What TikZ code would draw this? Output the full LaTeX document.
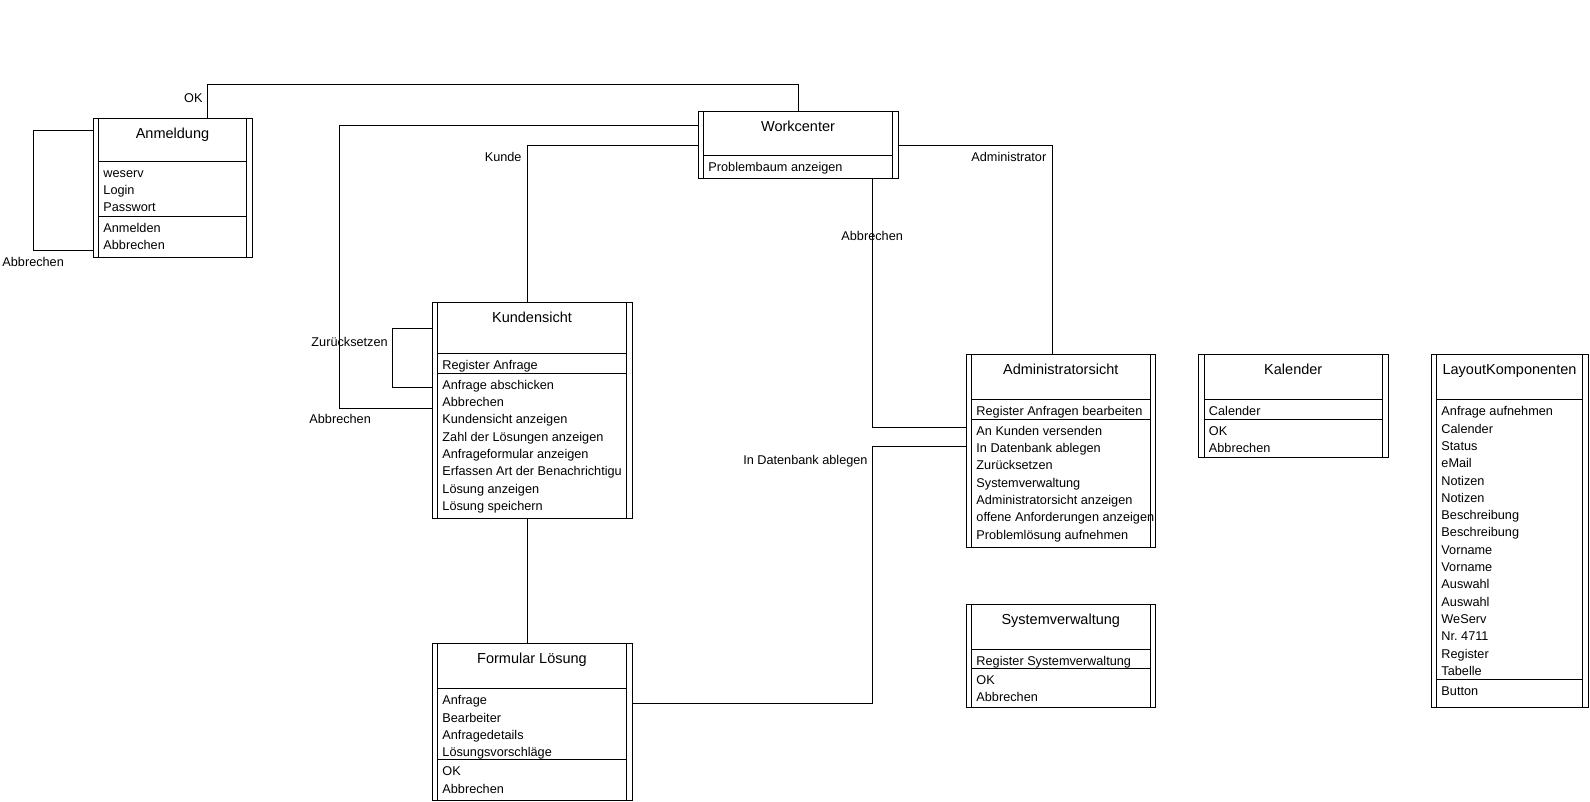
\documentclass[tikz,border=0pt]{standalone}
\usepackage{fontspec}
\setmainfont{Liberation Sans}
\frenchspacing

\begin{document}
\begin{tikzpicture}[x=1pt, y=-1pt, line width=0.9pt,
    frame/.style={draw, anchor=north west, inner sep=0pt, outer sep=0pt},
    heading/.style={anchor=base, inner sep=0pt, font=\fontsize{14.5}{17}\selectfont},
    entry/.style={anchor=base west, inner sep=0pt, font=\fontsize{12.7}{15}\selectfont},
    linklabel/.style={inner sep=0pt, font=\fontsize{12.7}{15}\selectfont},
  ]
  \path[use as bounding box, fill=white] (0,0) rectangle (1590,801);

  % Anmeldung
  \node[frame, minimum width=159, minimum height=139] (anm) at (93,118) {};
  \node[heading] (anm-t) at (172.5,138) {Anmeldung};
  \draw (98.5,118) -- (98.5,257) (246.5,118) -- (246.5,257)
        (98.5,161) -- (246.5,161) (98.5,216) -- (246.5,216);
  \foreach \t [count=\i] in {weserv,Login,Passwort}
    \node[entry] (anm-a\i) at (103,160+17.3*\i) {\t};
  \foreach \t [count=\i] in {Anmelden,Abbrechen}
    \node[entry] (anm-o\i) at (103,215+17.3*\i) {\t};

  % Workcenter
  \node[frame, minimum width=200, minimum height=67] (wc) at (698,111) {};
  \node[heading] (wc-t) at (798,131) {Workcenter};
  \draw (703.5,111) -- (703.5,178) (892.5,111) -- (892.5,178)
        (703.5,155) -- (892.5,155);
  \node[entry] (wc-o1) at (708,171) {Problembaum anzeigen};

  % Kundensicht
  \node[frame, minimum width=200, minimum height=216] (ks) at (432,302) {};
  \node[heading] (ks-t) at (532,322) {Kundensicht};
  \draw (437.5,302) -- (437.5,518) (626.5,302) -- (626.5,518)
        (437.5,353) -- (626.5,353) (437.5,373) -- (626.5,373);
  \node[entry] (ks-a1) at (442,369) {Register Anfrage};
  \foreach \t [count=\i] in {Anfrage abschicken,Abbrechen,Kundensicht anzeigen,
      Zahl der Lösungen anzeigen,Anfrageformular anzeigen,
      Erfassen Art der Benachrichtigu,Lösung anzeigen,Lösung speichern}
    \node[entry] (ks-o\i) at (442,372+17.3*\i) {\t};

  % Formular Loesung
  \node[frame, minimum width=200, minimum height=157] (fl) at (432,643) {};
  \node[heading] (fl-t) at (532,663) {Formular Lösung};
  \draw (437.5,643) -- (437.5,800) (626.5,643) -- (626.5,800)
        (437.5,688.5) -- (626.5,688.5) (437.5,759.5) -- (626.5,759.5);
  \foreach \t [count=\i] in {Anfrage,Bearbeiter,Anfragedetails,Lösungsvorschläge}
    \node[entry] (fl-a\i) at (442,687.5+17.3*\i) {\t};
  \foreach \t [count=\i] in {OK,Abbrechen}
    \node[entry] (fl-o\i) at (442,758.5+17.3*\i) {\t};

  % Administratorsicht
  \node[frame, minimum width=189.5, minimum height=193.5] (adm) at (966,354) {};
  \node[heading] (adm-t) at (1060.75,374) {Administratorsicht};
  \draw (971.5,354) -- (971.5,547.5) (1150,354) -- (1150,547.5)
        (971.5,399.5) -- (1150,399.5) (971.5,419) -- (1150,419);
  \node[entry] (adm-a1) at (976,415.5) {Register Anfragen bearbeiten};
  \foreach \t [count=\i] in {An Kunden versenden,In Datenbank ablegen,Zurücksetzen,
      Systemverwaltung,Administratorsicht anzeigen,offene Anforderungen anzeigen,
      Problemlösung aufnehmen}
    \node[entry] (adm-o\i) at (976,418+17.3*\i) {\t};

  % Kalender
  \node[frame, minimum width=189.5, minimum height=103.5] (kal) at (1198.5,354) {};
  \node[heading] (kal-t) at (1293.25,374) {Kalender};
  \draw (1204,354) -- (1204,457.5) (1382.5,354) -- (1382.5,457.5)
        (1204,399.5) -- (1382.5,399.5) (1204,419) -- (1382.5,419);
  \node[entry] (kal-a1) at (1208.5,415.5) {Calender};
  \foreach \t [count=\i] in {OK,Abbrechen}
    \node[entry] (kal-o\i) at (1208.5,418+17.3*\i) {\t};

  % LayoutKomponenten
  \node[frame, minimum width=157, minimum height=353] (lk) at (1431,354) {};
  \node[heading] (lk-t) at (1509.5,374) {LayoutKomponenten};
  \draw (1436.5,354) -- (1436.5,707) (1582.5,354) -- (1582.5,707)
        (1436.5,399.5) -- (1582.5,399.5) (1436.5,679.5) -- (1582.5,679.5);
  \foreach \t [count=\i] in {Anfrage aufnehmen,Calender,Status,eMail,Notizen,Notizen,
      Beschreibung,Beschreibung,Vorname,Vorname,Auswahl,Auswahl,WeServ,Nr. 4711,
      Register,Tabelle}
    \node[entry] (lk-a\i) at (1441,398.5+17.3*\i) {\t};
  \node[entry] (lk-o1) at (1441,695.5) {Button};

  % Systemverwaltung
  \node[frame, minimum width=189.5, minimum height=103] (sv) at (966,604) {};
  \node[heading] (sv-t) at (1060.75,624) {Systemverwaltung};
  \draw (971.5,604) -- (971.5,707) (1150,604) -- (1150,707)
        (971.5,649) -- (1150,649) (971.5,668) -- (1150,668);
  \node[entry] (sv-a1) at (976,665) {Register Systemverwaltung};
  \foreach \t [count=\i] in {OK,Abbrechen}
    \node[entry] (sv-o\i) at (976,667+17.3*\i) {\t};

  % transitions
  \draw ([xshift=114]anm.north west) -- ++(0,-34) -| (wc.north);
  \draw ([yshift=-12]anm.north west) -- ++(-60,0) |- ([yshift=7]anm.south west);
  \draw ([yshift=-14]wc.north west) -- ++(-359,0) |- ([yshift=-106]ks.north west);
  \draw ([yshift=-34]wc.north west) -| ([xshift=95]ks.north west);
  \draw ([yshift=-26]ks.north west) -- ++(-40,0) |- ([yshift=-85]ks.north west);
  \draw ([xshift=95]ks.south west) -- ([xshift=95]fl.north west);
  \draw ([yshift=-60]fl.north east) -- ++(240,0) |- ([yshift=-92]adm.north west);
  \draw ([xshift=174]wc.south west) |- ([yshift=-73]adm.north west);
  \draw ([yshift=-34]wc.north east) -| ([xshift=86]adm.north west);

  \node[linklabel, anchor=base east] (l-ok) at (203,102) {OK};
  \node[linklabel, anchor=base west] (l-anm) at (2,266) {Abbrechen};
  \node[linklabel, anchor=base west] (l-ksab) at (309,423.5) {Abbrechen};
  \node[linklabel, anchor=base east] (l-kunde) at (522,161) {Kunde};
  \node[linklabel, anchor=base west] (l-zur) at (311,346.5) {Zurücksetzen};
  \node[linklabel, anchor=base east] (l-db) at (868,464) {In Datenbank ablegen};
  \node[linklabel, anchor=base west] (l-wcab) at (841,240) {Abbrechen};
  \node[linklabel, anchor=base west] (l-admin) at (971,161) {Administrator};
\end{tikzpicture}
\end{document}
